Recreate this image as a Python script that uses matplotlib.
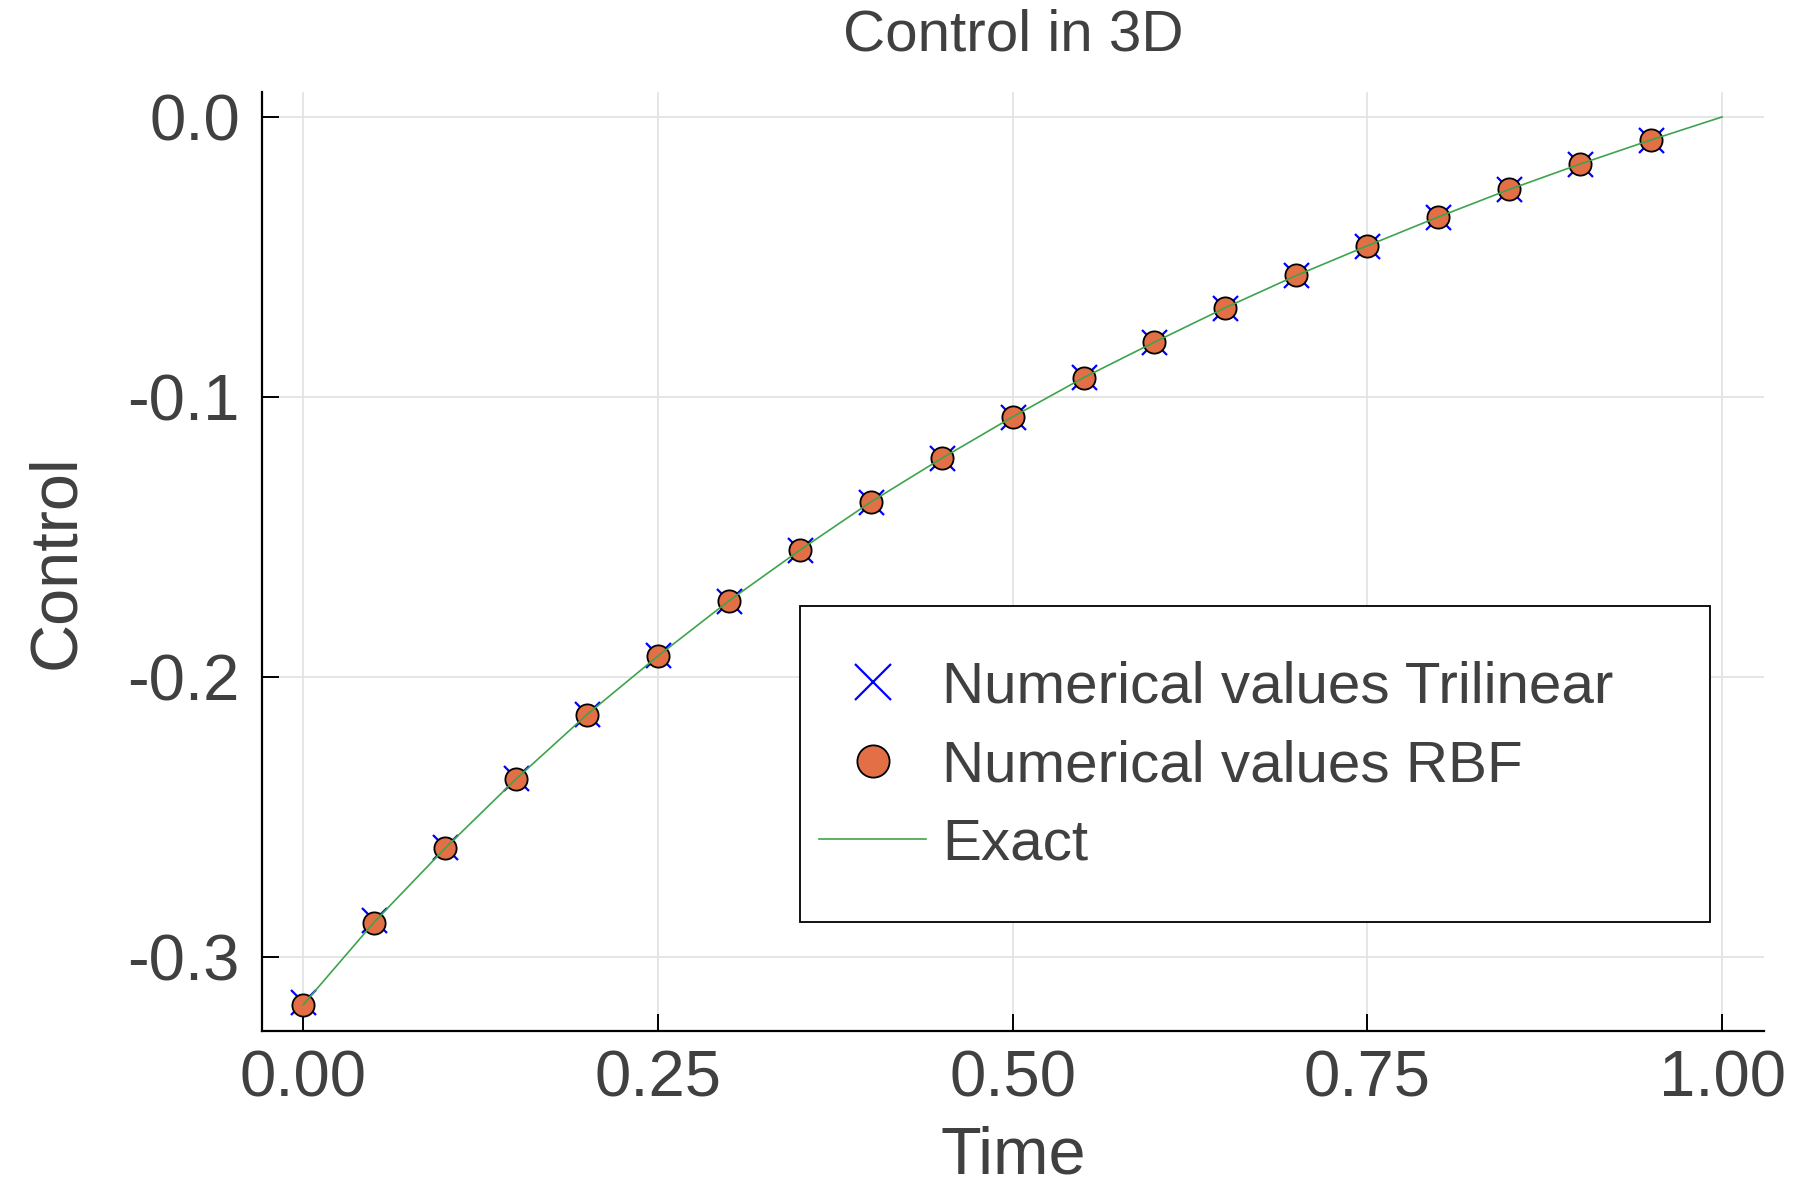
import matplotlib
matplotlib.use("Agg")
from matplotlib import pyplot as plt
from matplotlib import font_manager
from matplotlib.patches import Rectangle

# pick a narrow helvetica-like face if there is one
names = {f.name for f in font_manager.fontManager.ttflist}
face = 'Liberation Sans Narrow' if 'Liberation Sans Narrow' in names else 'Liberation Sans'
plt.rcParams['font.family'] = [face, 'DejaVu Sans']

txt = '#404040'

# data
t_num = [0.00, 0.05, 0.10, 0.15, 0.20, 0.25, 0.30, 0.35, 0.40, 0.45,
         0.50, 0.55, 0.60, 0.65, 0.70, 0.75, 0.80, 0.85, 0.90, 0.95]
u_trilinear = [-0.3160, -0.2867, -0.2607, -0.2362, -0.2132, -0.1922, -0.1727, -0.1546,
               -0.1374, -0.1218, -0.1070, -0.0930, -0.0804, -0.0681, -0.0566,
               -0.0460, -0.0357, -0.0259, -0.0168, -0.0082]
u_rbf = [-0.3172, -0.2877, -0.2612, -0.2365, -0.2134, -0.1925, -0.1728, -0.1547,
         -0.1375, -0.1219, -0.1071, -0.0931, -0.0804, -0.0681, -0.0566,
         -0.0460, -0.0357, -0.0259, -0.0168, -0.0082]
t_exact = t_num + [1.00]
u_exact = [-0.3170, -0.2875, -0.2611, -0.2364, -0.2134, -0.1925, -0.1728, -0.1547,
           -0.1375, -0.1219, -0.1071, -0.0931, -0.0804, -0.0681, -0.0566,
           -0.0460, -0.0357, -0.0259, -0.0168, -0.0082, 0.0]

xticks = [0.0, 0.25, 0.5, 0.75, 1.0]
xticklabels = ['0.00', '0.25', '0.50', '0.75', '1.00']
yticks = [0.0, -0.1, -0.2, -0.3]
yticklabels = ['0.0', '-0.1', '-0.2', '-0.3']

fig = plt.figure(figsize=(18, 12), dpi=100)
ax = fig.add_axes([0.1456, 0.1408, 0.8344, 0.7825])

ax.plot(t_num, u_trilinear, linestyle='none', marker='x', color='#0000ff',
        markersize=18, markeredgewidth=1.6, label='Numerical values Trilinear', zorder=3)
ax.plot(t_num, u_rbf, linestyle='none', marker='o', markerfacecolor='#e26f46',
        markeredgecolor='black', markeredgewidth=1.3, markersize=16,
        label='Numerical values RBF', zorder=4)
ax.plot(t_exact, u_exact, color='#3da44d', linewidth=1.2, label='Exact', zorder=5)

ax.set_xlim(-0.029, 1.0296)
ax.set_ylim(-0.3264, 0.0089)
ax.set_xticks(xticks)
ax.set_xticklabels(xticklabels)
ax.set_yticks(yticks)
ax.set_yticklabels(yticklabels)

ax.grid(True, color='#e4e4e4', linewidth=1.3)
ax.set_axisbelow(True)
for s in ['top', 'right']:
    ax.spines[s].set_visible(False)
for s in ['left', 'bottom']:
    ax.spines[s].set_linewidth(1.6)
    ax.spines[s].set_color('black')
ax.tick_params(direction='in', length=12, width=1.4, labelsize=47,
               labelcolor=txt, color='black')
ax.tick_params(axis='x', pad=13)
ax.tick_params(axis='y', pad=16)

ax.set_title('Control in 3D', fontsize=42, color=txt, pad=30)
ax.set_xlabel('Time', fontsize=48, color=txt, labelpad=12)
ax.set_ylabel('Control', fontsize=48, color=txt, labelpad=28)

# legend frame drawn separately so the padding can match
ax.add_patch(Rectangle((0.3582, 0.1161), 0.6059, 0.3365, transform=ax.transAxes,
                       facecolor='white', edgecolor='black', linewidth=1.3, zorder=6))
leg = ax.legend(loc='center left', bbox_to_anchor=(0.3582, 0.282), frameon=False,
                fontsize=42, handlelength=1.83, handletextpad=0.27, borderpad=0.33,
                labelspacing=0.42, borderaxespad=0, markerscale=1.45)
leg.set_zorder(7)
for t in leg.get_texts():
    t.set_color(txt)

plt.savefig('out.png', dpi=100)
